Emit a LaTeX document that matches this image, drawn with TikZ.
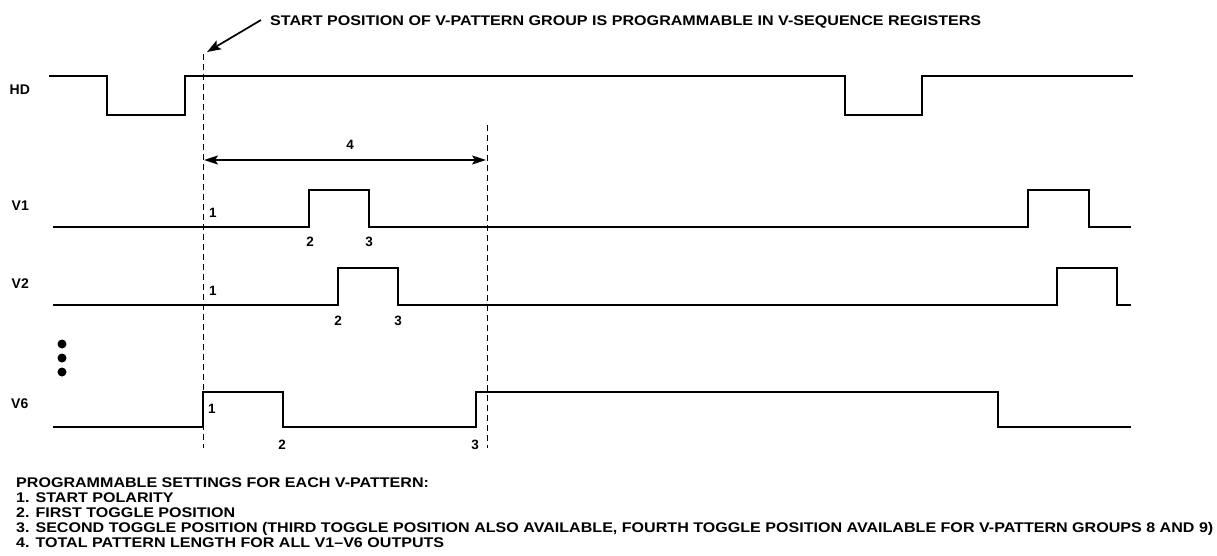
\documentclass[tikz,border=0pt]{standalone}
\usepackage{fontspec}
\setmainfont{Liberation Sans}
\usepackage{graphicx}
\usetikzlibrary{arrows.meta}
\begin{document}
\begin{tikzpicture}[x=1pt,y=-1pt,
  wave/.style={line width=2pt},
  guide/.style={line width=1pt, dash pattern=on 6pt off 4pt},
  sig/.style={font=\fontsize{14}{14}\selectfont\bfseries, inner sep=0pt, anchor=west},
  num/.style={font=\fontsize{13.5}{14}\selectfont\bfseries, inner sep=0pt},
  ptr/.style={line width=1.7pt, -{Stealth[length=14pt,width=10pt,inset=3pt]}},
  dimarrow/.style={line width=1.7pt, {Stealth[length=14pt,width=9pt,inset=3pt]}-{Stealth[length=14pt,width=9pt,inset=3pt]}},
  dotmark/.style={circle, fill, inner sep=0pt, minimum size=9pt},
]
\useasboundingbox (0,0) rectangle (1217,555);

% title and pointer
\node[inner sep=0pt, anchor=base west, font=\fontsize{14}{14}\selectfont\bfseries] (title) at (270,25)
  {\resizebox{711pt}{\height}{START POSITION OF V-PATTERN GROUP IS PROGRAMMABLE IN V-SEQUENCE REGISTERS}};
\coordinate (ptrstart) at (261,20);
\coordinate (ptrtip) at (207,52);
\draw[ptr] (ptrstart) -- (ptrtip);

% guides
\coordinate (g1top) at (203,54);
\coordinate (g1bot) at (203,448);
\coordinate (g2top) at (487,125);
\coordinate (g2bot) at (487,448);
\draw[guide] (g1top) -- (g1bot);
\draw[guide] (g2top) -- (g2bot);

% length arrow
\coordinate (lenL) at (204,160);
\coordinate (lenR) at (486,160);
\draw[dimarrow] (lenL) -- (lenR);
\node[num] (n4) at (350,145) {4};

% signal labels
\node[sig] (hd) at (9.5,90) {HD};
\node[sig] (v1) at (11.5,206) {V1};
\node[sig] (v2) at (11.5,284) {V2};
\node[sig] (v6) at (11,404) {V6};

% waveforms
\draw[wave] (49,76) -- (106.5,76) -- (106.5,115) -- (184.5,115) -- (184.5,76) -- (845,76) -- (845,115) -- (921.5,115) -- (921.5,76) -- (1133,76);
\draw[wave] (53,227) -- (309,227) -- (309,190) -- (369,190) -- (369,227) -- (1028,227) -- (1028,190) -- (1089,190) -- (1089,227) -- (1131,227);
\draw[wave] (53,305) -- (337.5,305) -- (337.5,268) -- (398,268) -- (398,305) -- (1057,305) -- (1057,268) -- (1117,268) -- (1117,305) -- (1131,305);
\draw[wave] (53,427) -- (203,427) -- (203,392) -- (282.5,392) -- (282.5,427) -- (475.5,427) -- (475.5,392) -- (998,392) -- (998,427) -- (1131,427);

% numbers
\node[num] (v1a) at (213,213) {1};
\node[num] (v1b) at (310,242) {2};
\node[num] (v1c) at (369,242) {3};
\node[num] (v2a) at (213,291) {1};
\node[num] (v2b) at (338,321) {2};
\node[num] (v2c) at (398,321) {3};
\node[num] (v6a) at (212,409) {1};
\node[num] (v6b) at (282,445) {2};
\node[num] (v6c) at (475,445) {3};

% ellipsis dots
\node[dotmark] (d1) at (62,344) {};
\node[dotmark] (d2) at (62,358) {};
\node[dotmark] (d3) at (62,372) {};

% notes
\node[inner sep=0pt, anchor=north west, font=\fontsize{14}{15}\selectfont\bfseries] (notes) at (16,476.5)
  {\resizebox{1197pt}{\height}{\begin{tabular}{@{}l@{}}
  PROGRAMMABLE SETTINGS FOR EACH V-PATTERN:\\
  1. START POLARITY\\
  2. FIRST TOGGLE POSITION\\
  3. SECOND TOGGLE POSITION (THIRD TOGGLE POSITION ALSO AVAILABLE, FOURTH TOGGLE POSITION AVAILABLE FOR V-PATTERN GROUPS 8 AND 9)\\
  4. TOTAL PATTERN LENGTH FOR ALL V1–V6 OUTPUTS
  \end{tabular}}};
\end{tikzpicture}
\end{document}
